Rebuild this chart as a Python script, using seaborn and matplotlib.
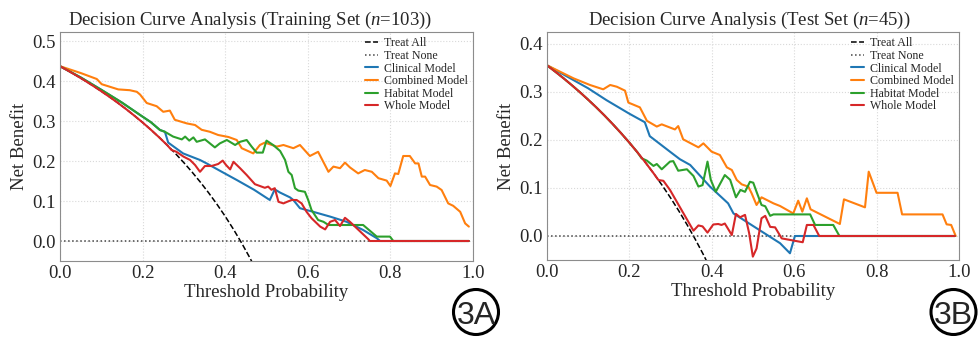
import numpy as np
import pandas as pd
import matplotlib
matplotlib.use("Agg")
import matplotlib.pyplot as plt
from matplotlib.patches import Ellipse
import seaborn as sns

# ---------------- Training set (n=103) ----------------
train_all_t = [0.00, 0.02, 0.04, 0.06, 0.08, 0.10, 0.12, 0.14, 0.16, 0.18, 0.20, 0.22, 0.24,
               0.26, 0.28, 0.30, 0.32, 0.34, 0.36, 0.38, 0.40, 0.42, 0.44, 0.46, 0.48]
train_all_nb = [0.437, 0.4255, 0.4135, 0.4011, 0.3880, 0.3744, 0.3602, 0.3454, 0.3298, 0.3134,
                0.2963, 0.2782, 0.2592, 0.2392, 0.2181, 0.1957, 0.1721, 0.1470, 0.1203, 0.0919,
                0.0617, 0.0293, -0.0054, -0.0426, -0.0827]

train_clinical_t = [0.0, 0.05, 0.10, 0.15, 0.194, 0.22, 0.242, 0.254, 0.262, 0.298, 0.339, 0.355,
                    0.39, 0.428, 0.47, 0.508, 0.52, 0.533, 0.557, 0.565, 0.581, 0.613, 0.654,
                    0.694, 0.734, 0.767, 0.775, 0.99]
train_clinical_nb = [0.437, 0.409, 0.378, 0.346, 0.315, 0.297, 0.2775, 0.273, 0.246, 0.219, 0.2025,
                     0.194, 0.174, 0.1525, 0.128, 0.1025, 0.129, 0.121, 0.109, 0.1025, 0.082, 0.073,
                     0.061, 0.048, 0.0275, 0.007, 0.0, 0.0]

train_combined_t = [0.0, 0.05, 0.089, 0.101, 0.141, 0.169, 0.186, 0.194, 0.21, 0.234, 0.25, 0.266,
                    0.278, 0.307, 0.327, 0.343, 0.363, 0.383, 0.408, 0.428, 0.44, 0.468, 0.484,
                    0.496, 0.525, 0.541, 0.565, 0.581, 0.605, 0.625, 0.65, 0.662, 0.678, 0.69,
                    0.702, 0.722, 0.738, 0.755, 0.771, 0.791, 0.80, 0.811, 0.819, 0.831, 0.847,
                    0.86, 0.868, 0.876, 0.884, 0.896, 0.912, 0.924, 0.94, 0.952, 0.969, 0.981, 0.99]
train_combined_nb = [0.437, 0.42, 0.405, 0.392, 0.379, 0.377, 0.373, 0.366, 0.345, 0.337, 0.323,
                     0.326, 0.303, 0.294, 0.29, 0.278, 0.273, 0.265, 0.26, 0.2525, 0.232, 0.219,
                     0.24, 0.246, 0.236, 0.24, 0.232, 0.24, 0.2125, 0.223, 0.173, 0.186, 0.182,
                     0.196, 0.184, 0.169, 0.1775, 0.173, 0.157, 0.151, 0.1375, 0.169, 0.1675,
                     0.2125, 0.2125, 0.194, 0.194, 0.161, 0.161, 0.14, 0.136, 0.1275, 0.094,
                     0.088, 0.073, 0.044, 0.036]

train_habitat_t = [0.0, 0.05, 0.10, 0.15, 0.194, 0.22, 0.242, 0.254, 0.274, 0.295, 0.303, 0.313,
                   0.323, 0.331, 0.351, 0.375, 0.387, 0.404, 0.424, 0.436, 0.452, 0.464, 0.476,
                   0.491, 0.50, 0.516, 0.533, 0.545, 0.553, 0.561, 0.569, 0.577, 0.593, 0.601,
                   0.609, 0.625, 0.638, 0.65, 0.734, 0.767, 0.799, 0.807, 0.99]
train_habitat_nb = [0.437, 0.409, 0.378, 0.346, 0.315, 0.297, 0.2775, 0.273, 0.261, 0.254, 0.261,
                    0.251, 0.259, 0.248, 0.254, 0.234, 0.244, 0.2525, 0.24, 0.248, 0.2525, 0.236,
                    0.221, 0.221, 0.251, 0.24, 0.225, 0.2025, 0.173, 0.165, 0.132, 0.126, 0.123,
                    0.1025, 0.0775, 0.0525, 0.048, 0.04, 0.04, 0.011, 0.011, 0.0, 0.0]

train_whole_t = [0.00, 0.02, 0.04, 0.06, 0.08, 0.10, 0.12, 0.14, 0.16, 0.18, 0.20, 0.22, 0.24,
                 0.26, 0.27, 0.282, 0.299, 0.315, 0.327, 0.339, 0.351, 0.367, 0.383, 0.394, 0.402,
                 0.412, 0.42, 0.436, 0.452, 0.472, 0.488, 0.496, 0.504, 0.512, 0.52, 0.529, 0.541,
                 0.55, 0.561, 0.573, 0.585, 0.597, 0.609, 0.63, 0.642, 0.654, 0.666, 0.678, 0.69,
                 0.702, 0.747, 0.75, 0.99]
train_whole_nb = [0.437, 0.4255, 0.4135, 0.4011, 0.3880, 0.3744, 0.3602, 0.3454, 0.3298, 0.3134,
                  0.2963, 0.2782, 0.2592, 0.2392, 0.2275, 0.223, 0.211, 0.2025, 0.19, 0.173,
                  0.1875, 0.1875, 0.1925, 0.201, 0.19, 0.179, 0.198, 0.182, 0.165, 0.142, 0.136,
                  0.133, 0.136, 0.128, 0.132, 0.098, 0.094, 0.098, 0.1025, 0.1025, 0.094, 0.073,
                  0.057, 0.036, 0.029, 0.048, 0.0525, 0.0375, 0.058, 0.048, 0.004, 0.0, 0.0]

# ---------------- Test set (n=45) ----------------
test_all_t = [0.00, 0.02, 0.04, 0.06, 0.08, 0.10, 0.12, 0.14, 0.16, 0.18, 0.20, 0.22, 0.24,
              0.26, 0.28, 0.30, 0.32, 0.34, 0.36, 0.38, 0.40]
test_all_nb = [0.356, 0.3429, 0.3292, 0.3149, 0.3000, 0.2844, 0.2682, 0.2512, 0.2333, 0.2146,
               0.1950, 0.1744, 0.1526, 0.1297, 0.1056, 0.0800, 0.0529, 0.0242, -0.0063, -0.0387,
               -0.0733]

test_clinical_t = [0.0, 0.05, 0.10, 0.145, 0.20, 0.238, 0.25, 0.30, 0.323, 0.348, 0.396, 0.44,
                   0.453, 0.513, 0.566, 0.59, 0.602, 0.99]
test_clinical_nb = [0.356, 0.332, 0.308, 0.283, 0.255, 0.237, 0.208, 0.175, 0.16, 0.148, 0.103,
                    0.068, 0.047, 0.014, -0.015, -0.036, 0.0, 0.0]

test_combined_t = [0.0, 0.065, 0.105, 0.137, 0.154, 0.17, 0.19, 0.198, 0.226, 0.243, 0.267, 0.279,
                   0.311, 0.319, 0.331, 0.368, 0.38, 0.40, 0.42, 0.437, 0.449, 0.461, 0.473,
                   0.489, 0.497, 0.509, 0.521, 0.55, 0.566, 0.598, 0.61, 0.62, 0.631, 0.64,
                   0.711, 0.721, 0.772, 0.781, 0.80, 0.851, 0.862, 0.96, 0.97, 0.981, 0.992]
test_combined_nb = [0.356, 0.3285, 0.3146, 0.3056, 0.3146, 0.311, 0.3028, 0.278, 0.268, 0.24,
                    0.228, 0.2326, 0.222, 0.229, 0.2014, 0.1847, 0.193, 0.1757, 0.1687, 0.143,
                    0.1375, 0.1167, 0.1076, 0.1028, 0.089, 0.0646, 0.0806, 0.068, 0.0625, 0.047,
                    0.0736, 0.0507, 0.0785, 0.0556, 0.025, 0.0764, 0.0597, 0.134, 0.09, 0.09,
                    0.045, 0.045, 0.0243, 0.023, 0.0]

test_habitat_t = [0.00, 0.02, 0.04, 0.06, 0.08, 0.10, 0.12, 0.14, 0.16, 0.18, 0.20, 0.22, 0.23,
                  0.243, 0.259, 0.267, 0.279, 0.299, 0.307, 0.319, 0.34, 0.356, 0.368, 0.378,
                  0.39, 0.398, 0.41, 0.432, 0.445, 0.459, 0.47, 0.481, 0.493, 0.501, 0.509, 0.521,
                  0.53, 0.542, 0.55, 0.639, 0.651, 0.695, 0.71, 0.99]
test_habitat_nb = [0.356, 0.3429, 0.3292, 0.3149, 0.3000, 0.2844, 0.2682, 0.2512, 0.2333, 0.2146,
                   0.1950, 0.1744, 0.162, 0.157, 0.146, 0.15, 0.139, 0.155, 0.156, 0.136, 0.139,
                   0.125, 0.103, 0.106, 0.155, 0.117, 0.092, 0.127, 0.117, 0.0806, 0.096, 0.092,
                   0.113, 0.111, 0.092, 0.0646, 0.062, 0.042, 0.045, 0.045, 0.023, 0.023, 0.0, 0.0]

test_whole_t = [0.00, 0.02, 0.04, 0.06, 0.08, 0.10, 0.12, 0.14, 0.16, 0.18, 0.20, 0.22, 0.24,
                0.26, 0.271, 0.283, 0.299, 0.356, 0.368, 0.378, 0.39, 0.404, 0.416, 0.424, 0.432,
                0.449, 0.459, 0.469, 0.481, 0.491, 0.50, 0.509, 0.521, 0.53, 0.542, 0.554, 0.57,
                0.621, 0.631, 0.647, 0.661, 0.99]
test_whole_nb = [0.356, 0.3429, 0.3292, 0.3149, 0.3000, 0.2844, 0.2682, 0.2512, 0.2333, 0.2146,
                 0.1950, 0.1744, 0.1526, 0.1297, 0.1166, 0.115, 0.096, 0.011, 0.022, 0.02, 0.007,
                 0.024, 0.025, 0.023, 0.026, 0.002, 0.046, 0.039, 0.044, 0.006, -0.043, -0.026,
                 0.037, 0.042, 0.019, 0.018, -0.005, -0.013, 0.023, 0.023, 0.0, 0.0]

none_t = [0.0, 0.99]
none_nb = [0.0, 0.0]

model_names = ["Clinical Model", "Combined Model", "Habitat Model", "Whole Model"]
model_colors = ["#1f77b4", "#ff7f0e", "#2ca02c", "#d62728"]

panels = [
    dict(title="Decision Curve Analysis (Training Set ($n$=103))", title_x=0.46,
         all_t=train_all_t, all_nb=train_all_nb,
         models=[(train_clinical_t, train_clinical_nb), (train_combined_t, train_combined_nb),
                 (train_habitat_t, train_habitat_nb), (train_whole_t, train_whole_nb)],
         ylim=(-0.05, 0.5225), yticks=[0.0, 0.1, 0.2, 0.3, 0.4, 0.5],
         rect=[60 / 980, 1 - 261 / 339, 413 / 980, 229 / 339], tag="3A", tag_xy=(476, 312)),
    dict(title="Decision Curve Analysis (Test Set ($n$=45))", title_x=0.492,
         all_t=test_all_t, all_nb=test_all_nb,
         models=[(test_clinical_t, test_clinical_nb), (test_combined_t, test_combined_nb),
                 (test_habitat_t, test_habitat_nb), (test_whole_t, test_whole_nb)],
         ylim=(-0.05, 0.425), yticks=[0.0, 0.1, 0.2, 0.3, 0.4],
         rect=[546.7 / 980, 1 - 260 / 339, 412.3 / 980, 228 / 339], tag="3B", tag_xy=(953.5, 312)),
]

sns.set_style("whitegrid", {"grid.linestyle": ":", "grid.color": "#d9d9d9",
                            "axes.edgecolor": "#8c8c8c", "axes.linewidth": 1.3})
plt.rcParams["font.family"] = ["Liberation Serif", "DejaVu Serif"]
plt.rcParams["mathtext.fontset"] = "custom"
plt.rcParams["mathtext.rm"] = "Liberation Serif"
plt.rcParams["mathtext.it"] = "Liberation Serif:italic"

fig = plt.figure(figsize=(9.8, 3.39), dpi=100)

for p in panels:
    ax = fig.add_axes(p["rect"])
    sns.lineplot(x=p["all_t"], y=p["all_nb"], ax=ax, color="black", linestyle="--",
                 linewidth=1.1, label="Treat All", estimator=None)
    sns.lineplot(x=none_t, y=none_nb, ax=ax, color="#444444", linestyle=":",
                 linewidth=1.1, label="Treat None", estimator=None)
    for (t, nb), name, col in zip(p["models"], model_names, model_colors):
        sns.lineplot(x=t, y=nb, ax=ax, color=col, linewidth=1.5, label=name, estimator=None)

    ax.set_xlim(0, 1)
    ax.set_ylim(*p["ylim"])
    ax.set_xticks([0.0, 0.2, 0.4, 0.6, 0.8, 1.0])
    ax.set_yticks(p["yticks"])
    ax.xaxis.set_major_formatter(matplotlib.ticker.FormatStrFormatter("%.1f"))
    ax.yaxis.set_major_formatter(matplotlib.ticker.FormatStrFormatter("%.1f"))
    ax.tick_params(axis="both", labelsize=13.5, pad=3, length=0)
    ax.set_xlabel("Threshold Probability", fontsize=13.5, labelpad=1)
    ax.set_ylabel("Net Benefit", fontsize=13.5, labelpad=3)
    ax.set_title(p["title"], fontsize=13.5, pad=5, x=p["title_x"])

    ax.legend(loc="upper right", frameon=False, fontsize=8.6, handlelength=1.1,
              handletextpad=0.45, labelspacing=0.05, borderaxespad=0.25, borderpad=0.2)

    # circled panel tag in the lower-right corner
    cx, cy = p["tag_xy"]
    fig.patches.append(Ellipse((cx / 980, 1 - cy / 339), 45 / 980, 45 / 339,
                               transform=fig.transFigure, fill=False,
                               edgecolor="black", linewidth=2.2))
    fig.text(cx / 980, 1 - cy / 339, p["tag"], ha="center", va="center_baseline",
             fontsize=23, family="Liberation Sans")

fig.savefig("out.png", dpi=100)
